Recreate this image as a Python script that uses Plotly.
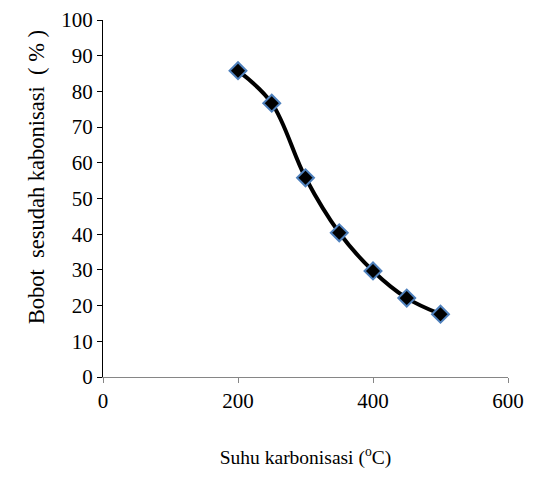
import plotly.graph_objects as go

suhu = [200, 250, 300, 350, 400, 450, 500]
bobot = [85.8, 76.7, 55.8, 40.4, 29.7, 22.1, 17.6]
x_ticks = [0, 200, 400, 600]
y_ticks = list(range(0, 101, 10))
x_title = "Suhu karbonisasi (<sup>o</sup>C)"
y_title = "Bobot\u00a0\u00a0sesudah kabonisasi\u00a0\u00a0(\u00a0%\u00a0)"

fig = go.Figure()
fig.add_trace(go.Scatter(
    x=suhu, y=bobot, mode="lines+markers",
    line=dict(color="black", width=4, shape="spline", smoothing=1.0),
    marker=dict(symbol="diamond", size=13, color="black",
                line=dict(color="#4f81bd", width=2)),
    showlegend=False,
))

serif = "Liberation Serif"
fig.update_layout(
    width=526, height=484,
    margin=dict(l=95, r=26, t=12, b=115),
    paper_bgcolor="white", plot_bgcolor="white",
    font=dict(family=serif, size=20, color="black"),
)
fig.update_xaxes(
    range=[0, 600], tickvals=x_ticks, showgrid=False, zeroline=False,
    showline=True, linecolor="#868686", linewidth=1,
    ticks="outside", ticklen=5, tickcolor="#868686",
    tickfont=dict(family=serif, size=21), automargin=False,
    title=dict(text=x_title, standoff=38,
               font=dict(family=serif, size=19.5)),
)
fig.update_yaxes(
    range=[0, 100], tickvals=y_ticks, showgrid=False, zeroline=False,
    showline=True, linecolor="black", linewidth=1,
    ticks="outside", ticklen=5, tickcolor="black",
    tickfont=dict(family=serif, size=21), automargin=False,
    ticksuffix="\u2002",
)
fig.add_annotation(
    text=y_title, textangle=-90, showarrow=False,
    xref="paper", yref="paper", x=-0.165, y=0.56,
    xanchor="center", yanchor="middle",
    font=dict(family=serif, size=22.5, color="black"),
)
fig.write_html("out.html")
